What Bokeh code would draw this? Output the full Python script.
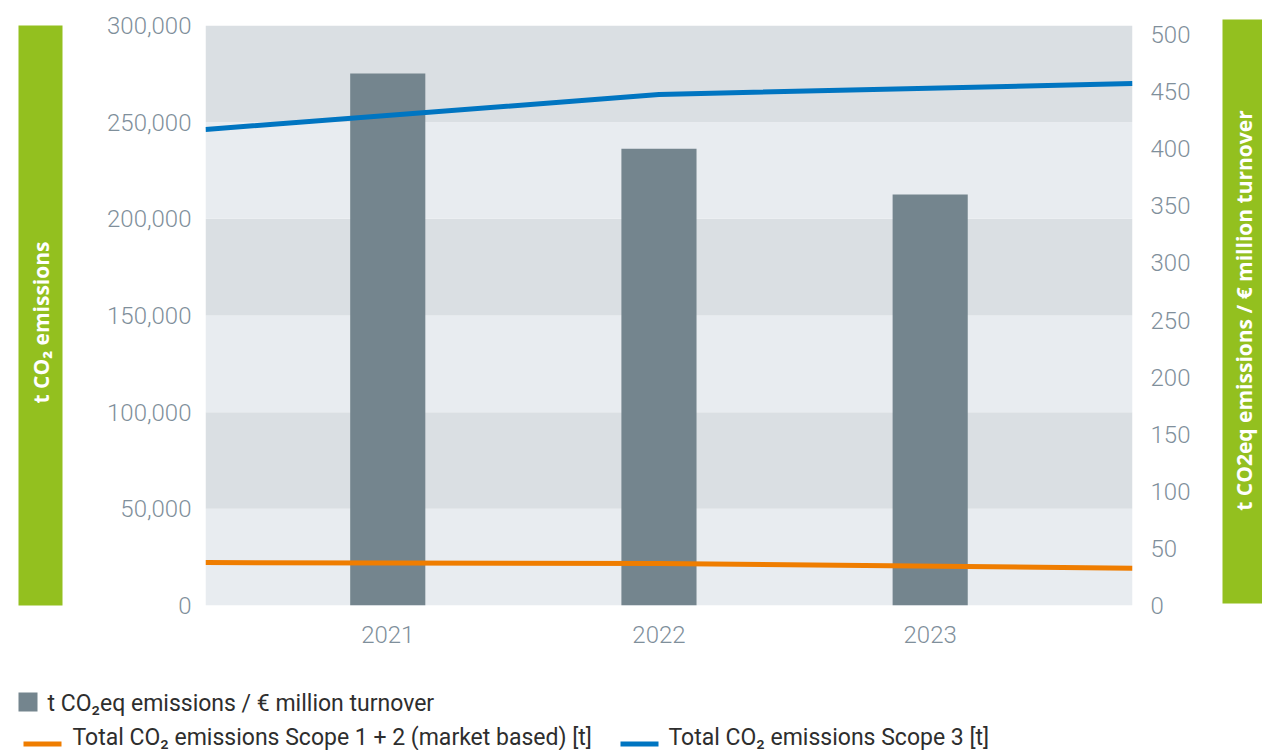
from math import pi

from bokeh.embed import file_html
from bokeh.layouts import column, row
from bokeh.models import (FixedTicker, Label, LinearAxis,
                          NumeralTickFormatter, Range1d)
from bokeh.plotting import figure
from bokeh.resources import INLINE

# ---- data -------------------------------------------------------------
years = [2021, 2022, 2023]
year_labels = ["2021", "2022", "2023"]

# t CO2eq emissions per € million turnover (right axis)
intensity = [466, 400, 360]

# total CO2 emissions [t] (left axis)
scope12_market = [22200, 21700, 19300]
scope3 = [246200, 264300, 270000]

left_ticks = [0, 50000, 100000, 150000, 200000, 250000, 300000]
right_ticks = [0, 50, 100, 150, 200, 250, 300, 350, 400, 450, 500]

left_caption = "t CO\u2082 emissions"
right_caption = "t CO2eq emissions / \u20ac million turnover"
legend_labels = [
    "t CO\u2082eq emissions / \u20ac million turnover",
    "Total CO\u2082 emissions Scope 1 + 2 (market based) [t]",
    "Total CO\u2082 emissions Scope 3 [t]",
]

# ---- styling ----------------------------------------------------------
BAR = "#74858e"
ORANGE = "#ef7d00"
BLUE = "#0075c1"
GREEN = "#93c01f"
BAND_DARK = "#dadfe3"
BAND_LIGHT = "#e8ecf0"
TICK_COLOR = "#7f8f9b"
TEXT_DARK = "#2e2e2e"
TICK_FONT = "Roboto Light"
FONT = "Roboto"
CAPTION_FONT = "Open Sans"

W, H = 1262, 750
TOP_H = 660                 # height of the chart row, legend below
SIDE_L, SIDE_R = 80, 50     # caption strips left and right
FL, FR, FT, FB = 205, 1132, 25, 605   # plot frame edges on the page


def blank(width, height, x_start, y_top):
    """A frame-only figure whose data coordinates equal page pixels."""
    f = figure(width=width, height=height, output_backend="svg",
               toolbar_location=None,
               x_range=Range1d(x_start, x_start + width),
               y_range=Range1d(y_top + height, y_top),
               min_border=0, min_border_left=0, min_border_right=0,
               min_border_top=0, min_border_bottom=0)
    f.axis.visible = False
    f.grid.visible = False
    f.outline_line_color = None
    f.background_fill_color = "white"
    f.border_fill_color = "white"
    return f


# ---- main chart -------------------------------------------------------
x0, x1 = 2020.328, 2023.746
main_w = W - SIDE_L - SIDE_R

p = figure(width=main_w, height=TOP_H, output_backend="svg",
           toolbar_location=None,
           x_range=Range1d(x0, x1), y_range=Range1d(0, 300000),
           min_border_left=FL - SIDE_L, min_border_right=W - SIDE_R - FR,
           min_border_top=FT, min_border_bottom=TOP_H - FB)
p.extra_y_ranges = {"intensity": Range1d(0, 508)}
p.background_fill_color = "white"
p.border_fill_color = "white"
p.outline_line_color = None
p.grid.grid_line_color = None

# alternating horizontal bands between the left-axis ticks
band_bottom = left_ticks[:-1]
band_top = left_ticks[1:]
band_colors = [BAND_LIGHT if i % 2 == 0 else BAND_DARK
               for i in range(len(band_bottom))]
p.quad(left=x0, right=x1, bottom=band_bottom, top=band_top,
       fill_color=band_colors, line_color=None)

# intensity bars on the right axis
p.vbar(x=years, top=intensity, width=0.277, y_range_name="intensity",
       fill_color=BAR, line_color=None)

# emission lines run across the full width, kinked at the middle year
line_x = [x0, years[1], x1]
p.line(line_x, scope12_market, line_color=ORANGE, line_width=5)
p.line(line_x, scope3, line_color=BLUE, line_width=5)


def style_axis(ax, standoff):
    ax.axis_line_color = None
    ax.major_tick_line_color = None
    ax.minor_tick_line_color = None
    ax.major_label_text_color = TICK_COLOR
    ax.major_label_text_font = TICK_FONT
    ax.major_label_text_font_size = "24px"
    ax.major_label_standoff = standoff


p.yaxis.ticker = FixedTicker(ticks=left_ticks)
p.yaxis.formatter = NumeralTickFormatter(format="0,0")
style_axis(p.yaxis[0], 8)

p.xaxis.ticker = FixedTicker(ticks=years)
p.xaxis.major_label_overrides = {y: s for y, s in zip(years, year_labels)}
style_axis(p.xaxis[0], 14)

right = LinearAxis(y_range_name="intensity",
                   ticker=FixedTicker(ticks=right_ticks))
style_axis(right, 12)
p.add_layout(right, "right")

# ---- caption strips ---------------------------------------------------
left = blank(SIDE_L, TOP_H, 0, 0)
left.quad(left=18, right=62, top=FT, bottom=FB,
          fill_color=GREEN, line_color=None)
left.add_layout(Label(x=40, y=322, text=left_caption, angle=pi / 2,
                      text_align="center", text_baseline="middle",
                      text_color="white", text_font=CAPTION_FONT,
                      text_font_style="bold", text_font_size="21px"))

rstrip = blank(SIDE_R, TOP_H, W - SIDE_R, 0)
rstrip.quad(left=1222, right=1268, top=19, bottom=603,
            fill_color=GREEN, line_color=None)
rstrip.add_layout(Label(x=1243, y=310, text=right_caption, angle=pi / 2,
                        text_align="center", text_baseline="middle",
                        text_color="white", text_font=CAPTION_FONT,
                        text_font_style="bold", text_font_size="21px"))

# ---- legend -----------------------------------------------------------
leg = blank(W, H - TOP_H, 0, TOP_H)
leg.quad(left=[18], right=[37], top=[692], bottom=[711],
         fill_color=BAR, line_color=None)
leg.quad(left=[23, 620], right=[61, 658], top=[741, 741], bottom=[746, 746],
         fill_color=[ORANGE, BLUE], line_color=None)
for lx, ly, txt in zip([47, 72, 668], [703, 737, 737], legend_labels):
    leg.add_layout(Label(x=lx, y=ly, text=txt, text_align="left",
                         text_baseline="middle", text_color=TEXT_DARK,
                         text_font=FONT, text_font_size="23px"))

layout = column(row(column(left), p, column(rstrip)), leg)
open("out.html", "w").write(file_html(layout, INLINE))
